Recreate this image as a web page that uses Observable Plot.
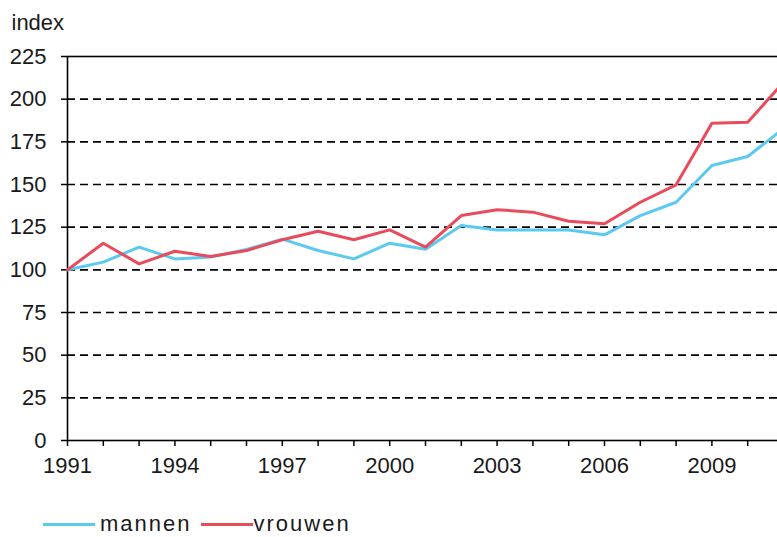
<!DOCTYPE html>
<html>
<head>
<meta charset="utf-8">
<script src="https://cdn.jsdelivr.net/npm/d3@7"></script>
<script src="https://cdn.jsdelivr.net/npm/@observablehq/plot@0.6"></script>
<style>
  html, body { margin: 0; padding: 0; background: #fff; }
  #wrap { position: relative; width: 777px; height: 537px; overflow: hidden; font-family: "Liberation Sans", Arial, sans-serif; color: #1a1a1a; }
  #chart svg { max-width: none !important; }
  #legend { position: absolute; left: 43px; top: 510px; display: flex; align-items: center; font-size: 22px; letter-spacing: 2px; line-height: 28px; }
  #legend .sw { display: inline-block; width: 52px; height: 3px; }
</style>
</head>
<body>
<div id="wrap">
  <div id="chart"></div>
  <div id="legend"></div>
</div>
<script>
const years = [1991,1992,1993,1994,1995,1996,1997,1998,1999,2000,2001,2002,2003,2004,2005,2006,2007,2008,2009,2010,2011];
const mannen = [100,104.5,113.3,106.4,107.5,112,118,111.3,106.4,115.6,112,126,123.4,123.4,123.4,120.5,131.8,139.6,161.1,166.4,182.8];
const vrouwen = [100,115.6,103.5,110.9,107.8,111.3,117.6,122.6,117.6,123.4,113.3,131.8,135.2,133.8,128.5,127,139.6,149.8,185.9,186.5,210];
const series = ["mannen", "vrouwen"];
const colors = ["#5cc9ef", "#e84b5b"];
const yTicks = [0,25,50,75,100,125,150,175,200,225];
const gridTicks = [25,50,75,100,125,150,175,200];
const xLabels = [1991,1994,1997,2000,2003,2006,2009];
const yLabel = "index";

const data = [];
years.forEach((yr, i) => {
  data.push({year: yr, value: mannen[i], serie: series[0]});
  data.push({year: yr, value: vrouwen[i], serie: series[1]});
});

const chart = Plot.plot({
  width: 784,
  height: 490,
  marginLeft: 67,
  marginRight: 1,
  marginTop: 56,
  marginBottom: 50,
  style: {fontFamily: "'Liberation Sans', Arial, sans-serif", fontSize: "22px", color: "#1a1a1a", background: "#fff", maxWidth: "none"},
  x: {domain: [1991, 2011]},
  y: {domain: [0, 225]},
  color: {domain: series, range: colors},
  marks: [
    Plot.ruleY(gridTicks, {stroke: "#000", strokeWidth: 1.6, strokeDasharray: "8,5"}),
    Plot.frame({stroke: "#000", strokeWidth: 1.6}),
    Plot.axisY(yTicks, {tickSize: 6, tickPadding: 15, stroke: "#000", strokeWidth: 1.5, label: null, fill: "#1a1a1a", fontSize: 22}),
    Plot.axisX(years, {tickSize: 6, tickFormat: () => "", stroke: "#000", strokeWidth: 1.5, label: null}),
    Plot.axisX(xLabels, {tickSize: 0, tickPadding: 17, tickFormat: d => String(d), label: null, fill: "#1a1a1a", fontSize: 22}),
    Plot.line(data, {x: "year", y: "value", z: "serie", stroke: "serie", strokeWidth: 3, strokeLinejoin: "miter"}),
    Plot.text([yLabel], {frameAnchor: "top-left", dx: -56, dy: -42, textAnchor: "start", fontSize: 22, fill: "#1a1a1a"})
  ]
});
document.getElementById("chart").appendChild(chart);

const legend = document.getElementById("legend");
series.forEach((s, i) => {
  const sw = document.createElement("span");
  sw.className = "sw";
  sw.style.background = colors[i];
  sw.style.marginLeft = i === 0 ? "0px" : "9px";
  sw.style.marginRight = i === 0 ? "5px" : "1px";
  legend.appendChild(sw);
  const t = document.createElement("span");
  t.textContent = s;
  legend.appendChild(t);
});
</script>
</body>
</html>
